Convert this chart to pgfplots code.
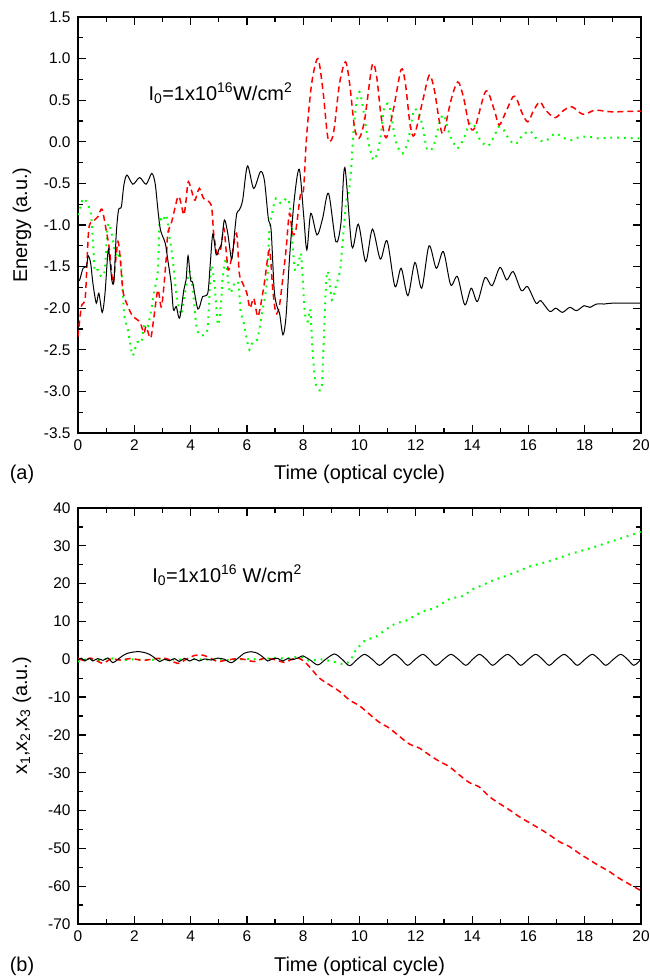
\documentclass[border=0pt]{standalone}
\usepackage{pgfplots}
\pgfplotsset{compat=1.18}
\usepackage{fontspec}
\setmainfont{Liberation Sans}
\definecolor{cred}{RGB}{255,0,0}
\definecolor{cgreen}{RGB}{0,255,0}
\pgfplotsset{
  panel/.style={
    scale only axis, width=563bp, height=416bp,
    xmin=0, xmax=20, xtick={0,2,...,20}, minor x tick num=1,
    minor y tick num=1,
    tick align=inside,
    axis line style={line width=1.4bp},
    every tick/.style={black, line width=1.2bp},
    major tick length=8bp, minor tick length=5bp,
    tick label style={font=\fontsize{15.5}{18}\selectfont, black},
    label style={font=\fontsize{20}{24}\selectfont},
    /pgf/number format/assume math mode=true,
    xticklabel style={yshift=-3bp},
    yticklabel style={xshift=-4bp},
    ylabel style={at={(axis description cs:-0.0995,0.5)}, anchor=center},
  },
  blk/.style={black, line width=1bp, smooth, tension=0.5, no markers},
  rdd/.style={cred, line width=1.5bp, dash pattern=on 6bp off 4bp, smooth, tension=0.5, no markers},
  grn/.style={cgreen, line width=2bp, dash pattern=on 1.8bp off 5bp, smooth, tension=0.5, no markers},
}
\pgfplotstableread{
t v
0 -1.67
0.06 -1.66
0.18 -1.52
0.30 -1.50
0.36 -1.37
0.45 -1.46
0.53 -1.70
0.65 -1.94
0.74 -1.82
0.86 -2.05
0.96 -1.82
1.07 -1.30
1.13 -1.42
1.21 -1.68
1.28 -1.66
1.36 -1.10
1.44 -0.82
1.54 -0.78
1.63 -0.52
1.74 -0.40
1.95 -0.51
2.19 -0.43
2.42 -0.51
2.62 -0.38
2.74 -0.50
2.84 -0.82
2.93 -1.06
3.10 -1.22
3.19 -1.42
3.31 -1.70
3.39 -2.02
3.49 -1.98
3.61 -2.12
3.76 -1.78
3.84 -1.66
3.91 -1.37
4.00 -1.66
4.08 -1.70
4.26 -2.01
4.43 -1.86
4.61 -1.82
4.70 -1.46
4.79 -1.11
4.91 -1.36
5.02 -1.28
5.10 -1.22
5.20 -0.94
5.32 -1.10
5.46 -1.41
5.56 -1.10
5.64 -0.86
5.73 -0.82
5.85 -0.70
6.02 -0.29
6.24 -0.56
6.48 -0.36
6.62 -0.46
6.76 -0.92
6.86 -1.06
6.97 -1.78
7.07 -1.98
7.16 -2.06
7.28 -2.32
7.39 -2.10
7.51 -1.42
7.68 -0.70
7.86 -0.33
8.02 -0.90
8.13 -1.30
8.27 -0.86
8.49 -1.12
8.69 -0.92
8.90 -0.62
9.16 -1.20
9.34 -0.98
9.48 -0.31
9.73 -1.26
9.96 -0.99
10.22 -1.44
10.46 -1.05
10.74 -1.41
10.98 -1.19
11.26 -1.74
11.48 -1.52
11.72 -1.85
11.97 -1.45
12.21 -1.76
12.47 -1.25
12.73 -1.52
12.98 -1.32
13.24 -1.72
13.48 -1.62
13.74 -1.96
13.97 -1.76
14.19 -1.92
14.46 -1.63
14.71 -1.73
14.99 -1.51
15.23 -1.66
15.46 -1.56
15.75 -1.79
15.97 -1.74
16.27 -1.94
16.44 -1.91
16.76 -2.04
16.97 -2.00
17.21 -2.05
17.47 -1.99
17.71 -2.03
17.98 -1.97
18.18 -1.99
18.42 -1.95
18.69 -1.95
18.98 -1.94
20 -1.94
}\topblack
\pgfplotstableread{
t v
0 -2.34
0.12 -1.98
0.26 -1.86
0.38 -1.06
0.53 -0.96
0.71 -0.90
0.85 -0.81
1.00 -1.06
1.12 -1.30
1.24 -1.70
1.33 -1.45
1.42 -1.20
1.50 -1.40
1.60 -1.80
1.75 -1.96
1.95 -2.10
2.19 -2.16
2.34 -2.30
2.42 -2.22
2.58 -2.36
2.70 -2.10
2.84 -1.78
2.97 -1.98
3.13 -1.42
3.19 -1.10
3.33 -0.96
3.55 -0.66
3.66 -0.74
3.76 -0.88
3.84 -0.70
3.92 -0.48
4.08 -0.64
4.16 -0.70
4.31 -0.56
4.46 -0.68
4.73 -0.76
4.82 -1.10
4.94 -1.34
5.06 -1.30
5.18 -1.04
5.26 -1.30
5.34 -1.54
5.44 -1.42
5.63 -1.10
5.73 -1.58
5.85 -1.70
6.00 -1.82
6.11 -2.00
6.24 -1.88
6.38 -2.10
6.48 -1.98
6.62 -1.70
6.80 -1.30
6.92 -1.78
7.03 -2.06
7.15 -1.98
7.27 -1.66
7.39 -1.30
7.51 -0.86
7.62 -1.10
7.74 -1.06
7.90 -0.64
8.01 -0.58
8.12 0.06
8.30 0.70
8.52 1.00
8.70 0.62
8.87 0.06
9.00 0.02
9.11 0.18
9.29 0.70
9.50 0.96
9.65 0.70
9.82 0.18
9.98 0.04
10.18 0.26
10.45 0.92
10.61 0.78
10.77 0.30
10.95 0.05
11.20 0.38
11.48 0.87
11.63 0.70
11.80 0.20
11.95 0.08
12.25 0.50
12.48 0.80
12.66 0.62
12.84 0.24
12.98 0.10
13.25 0.50
13.49 0.72
13.69 0.54
13.90 0.20
14.10 0.17
14.49 0.61
14.79 0.38
14.96 0.20
15.20 0.36
15.45 0.54
15.58 0.52
15.77 0.35
15.98 0.24
16.19 0.38
16.41 0.48
16.61 0.38
16.95 0.29
17.26 0.38
17.55 0.42
17.94 0.33
18.35 0.38
18.68 0.37
19.03 0.36
20 0.37
}\topred
\pgfplotstableread{
t v
0 -0.88
0.09 -0.78
0.18 -0.68
0.30 -0.72
0.41 -0.80
0.47 -0.90
0.53 -1.18
0.59 -1.54
0.71 -1.54
0.83 -1.62
0.95 -1.54
1.06 -1.00
1.18 -1.08
1.30 -1.30
1.42 -1.40
1.50 -1.35
1.60 -1.86
1.65 -2.10
1.77 -2.26
1.87 -2.46
1.95 -2.57
2.10 -2.41
2.25 -2.41
2.36 -2.20
2.48 -2.22
2.60 -2.02
2.72 -1.78
2.84 -1.54
2.90 -0.96
3.01 -0.96
3.13 -0.88
3.25 -1.14
3.37 -1.42
3.49 -1.82
3.66 -2.08
3.78 -1.86
3.96 -1.56
4.08 -1.78
4.20 -2.20
4.31 -2.32
4.49 -2.32
4.61 -2.22
4.73 -1.50
4.85 -1.72
4.97 -2.20
5.08 -1.94
5.14 -1.62
5.26 -1.40
5.32 -1.62
5.41 -1.82
5.56 -1.70
5.70 -1.70
5.77 -2.02
5.89 -2.18
6.00 -2.38
6.09 -2.50
6.21 -2.40
6.36 -2.38
6.44 -2.26
6.56 -2.02
6.68 -1.78
6.74 -1.54
6.80 -1.06
6.92 -0.82
7.03 -0.68
7.21 -0.74
7.45 -0.68
7.57 -0.90
7.62 -1.22
7.71 -1.54
7.83 -1.46
7.92 -1.34
7.98 -1.62
8.06 -2.06
8.16 -2.16
8.25 -2.02
8.33 -2.50
8.42 -2.86
8.51 -2.96
8.65 -2.96
8.72 -2.50
8.77 -2.02
8.84 -1.58
8.92 -1.62
9.02 -1.90
9.16 -1.74
9.31 -1.54
9.40 -1.22
9.52 -0.74
9.63 -0.58
9.70 -0.34
9.76 -0.02
9.82 0.26
9.91 0.50
10.00 0.60
10.10 0.46
10.20 0.24
10.31 0.00
10.40 -0.12
10.50 -0.22
10.64 -0.13
10.76 0.09
10.87 0.40
11.01 0.46
11.11 0.36
11.21 0.14
11.33 -0.04
11.53 -0.14
11.70 -0.02
11.82 0.18
11.94 0.39
12.10 0.34
12.25 0.18
12.40 -0.09
12.62 -0.06
12.86 0.25
13.00 0.32
13.19 0.10
13.30 0.02
13.48 -0.08
13.72 0.05
13.90 0.22
14.06 0.21
14.20 0.08
14.33 0.00
14.57 -0.05
14.80 0.08
14.94 0.18
15.13 0.14
15.31 0.03
15.54 -0.03
15.78 0.07
16.05 0.13
16.31 0.03
16.61 0.01
16.95 0.10
17.23 0.05
17.52 0.02
17.85 0.06
18.18 0.06
18.50 0.04
18.79 0.05
19.09 0.05
20 0.04
}\topgreen
\pgfplotstableread{
t v
0 -0.2
0.12 0.3
0.24 -0.45
0.41 0.25
0.53 -0.45
0.70 0.2
0.89 -0.3
1.06 0.35
1.24 -0.9
1.42 0
1.60 1.0
1.77 1.6
2.00 1.95
2.19 2.0
2.40 1.7
2.54 1.3
2.72 0.4
2.90 -0.6
3.07 0.0
3.25 -0.4
3.43 0.2
3.60 -0.6
3.78 0.25
3.96 -0.45
4.14 0.1
4.31 -0.45
4.50 0.1
4.73 -0.2
4.96 0.3
5.20 0.0
5.44 -0.9
5.67 0.2
5.91 1.6
6.15 2.0
6.30 1.8
6.44 1.3
6.60 0.4
6.74 -0.45
6.91 0.1
7.09 0.25
7.27 -0.45
7.45 0.2
7.62 -0.1
7.86 0.5
7.99 0.9
8.25 -0.2
8.52 -1.5
8.80 0
9.11 1.4
9.38 0
9.65 -1.7
9.92 0
10.18 1.3
10.45 0
10.71 -1.6
10.98 0
11.24 1.3
11.48 0
11.71 -1.6
11.98 0
12.25 1.3
12.48 0
12.72 -1.6
12.99 0
13.25 1.3
13.51 0
13.78 -1.6
14.02 0
14.26 1.3
14.50 0
14.73 -1.6
15.00 0
15.26 1.3
15.50 0
15.73 -1.6
16.00 0
16.26 1.3
16.50 0
16.74 -1.6
17.00 0
17.27 1.3
17.50 0
17.74 -1.6
18.01 0
18.27 1.3
18.51 0
18.75 -1.6
19.02 0
19.28 1.3
19.52 0
19.75 -1.6
20 0
}\botblack
\pgfplotstableread{
t v
0 0.2
0.20 -0.3
0.45 0.3
0.70 -0.5
0.89 -1.1
1.18 0.1
1.50 -0.2
1.90 0.2
2.30 -0.3
2.70 0.1
3.07 0.3
3.30 -0.3
3.55 -1.1
3.85 0
4.14 1.0
4.43 1.1
4.73 0.2
4.96 -0.6
5.30 -0.2
5.70 0.2
6.00 -0.2
6.26 -0.6
6.60 0.2
7.00 -0.1
7.33 -0.8
7.60 0.0
7.80 0.4
8.04 -0.6
8.27 -2.4
8.58 -5.0
8.94 -6.8
9.29 -8.5
9.65 -10.8
10.00 -12.3
10.35 -14.5
10.71 -16.7
11.06 -18.2
11.42 -20.4
11.77 -22.4
12.13 -23.5
12.48 -25.3
12.84 -27.0
13.19 -28.4
13.55 -30.6
13.90 -32.6
14.26 -33.8
14.61 -36.3
14.96 -38.1
15.32 -39.8
15.67 -41.6
16.03 -43.2
16.38 -44.7
16.74 -46.4
17.09 -48.2
17.45 -49.5
17.80 -51.3
18.16 -53.0
18.51 -54.6
18.87 -56.1
19.22 -57.9
19.57 -59.4
20.00 -61.2
}\botred
\pgfplotstableread{
t v
0 -0.6
0.30 0.0
0.60 -0.3
1.00 0.1
1.18 0.25
1.60 -0.2
2.00 0.0
2.50 -0.2
3.00 0.1
3.50 -0.1
4.00 0.1
4.50 -0.1
5.00 0.0
5.50 -0.2
6.00 0.1
6.50 0.0
6.97 0.4
7.40 0.2
7.87 0.7
8.23 -0.4
8.58 0.0
9.05 -0.6
9.46 -1.3
9.70 0.0
9.85 2.2
10.00 3.5
10.20 5.0
10.59 6.0
10.94 7.9
11.30 9.5
11.65 10.2
12.01 11.7
12.36 12.9
12.66 13.5
12.95 14.8
13.25 16.1
13.66 16.7
14.02 18.5
14.37 19.6
14.79 21.0
15.20 22.0
15.61 23.2
16.03 24.5
16.38 25.2
16.80 26.1
17.21 27.1
17.57 28.0
17.98 28.9
18.39 29.8
18.75 30.7
19.10 31.5
19.50 32.5
20.00 33.7
}\botgreen
\begin{document}
\begin{tikzpicture}
\useasboundingbox (0,0) rectangle (650bp,980bp);
\begin{axis}[panel, at={(78bp,547bp)}, anchor=south west,
  ymin=-3.5, ymax=1.5, ytick={-3.5,-3,...,1.5},
  yticklabel style={/pgf/number format/.cd, fixed, fixed zerofill, precision=1},
  xlabel={Time (optical cycle)}, ylabel={Energy (a.u.)},
  xlabel style={at={(axis description cs:0.5,-0.0986)}, anchor=center},
]
\addplot[grn] table[x=t,y=v] {\topgreen};
\addplot[rdd] table[x=t,y=v] {\topred};
\addplot[blk] table[x=t,y=v] {\topblack};
\node[anchor=base west, font=\fontsize{20}{24}\selectfont] at (axis cs:2.38,0.50) {I\textsubscript{0}=1x10\textsuperscript{16}W/cm\textsuperscript{2}};
\end{axis}
\begin{axis}[panel, at={(78bp,56bp)}, anchor=south west,
  ymin=-70, ymax=40, ytick={-70,-60,...,40},
  xlabel={Time (optical cycle)}, ylabel={x\textsubscript{1},x\textsubscript{2},x\textsubscript{3} (a.u.)},
  xlabel style={at={(axis description cs:0.5,-0.101)}, anchor=center},
]
\addplot[grn] table[x=t,y=v] {\botgreen};
\addplot[rdd] table[x=t,y=v] {\botred};
\addplot[blk] table[x=t,y=v] {\botblack};
\node[anchor=base west, font=\fontsize{20}{24}\selectfont] at (axis cs:2.52,20.4) {I\textsubscript{0}=1x10\textsuperscript{16} W/cm\textsuperscript{2}};
\end{axis}
\node[font=\fontsize{20}{24}\selectfont] at (22bp,506bp) {(a)};
\node[font=\fontsize{20}{24}\selectfont] at (22bp,14bp) {(b)};
\end{tikzpicture}
\end{document}
